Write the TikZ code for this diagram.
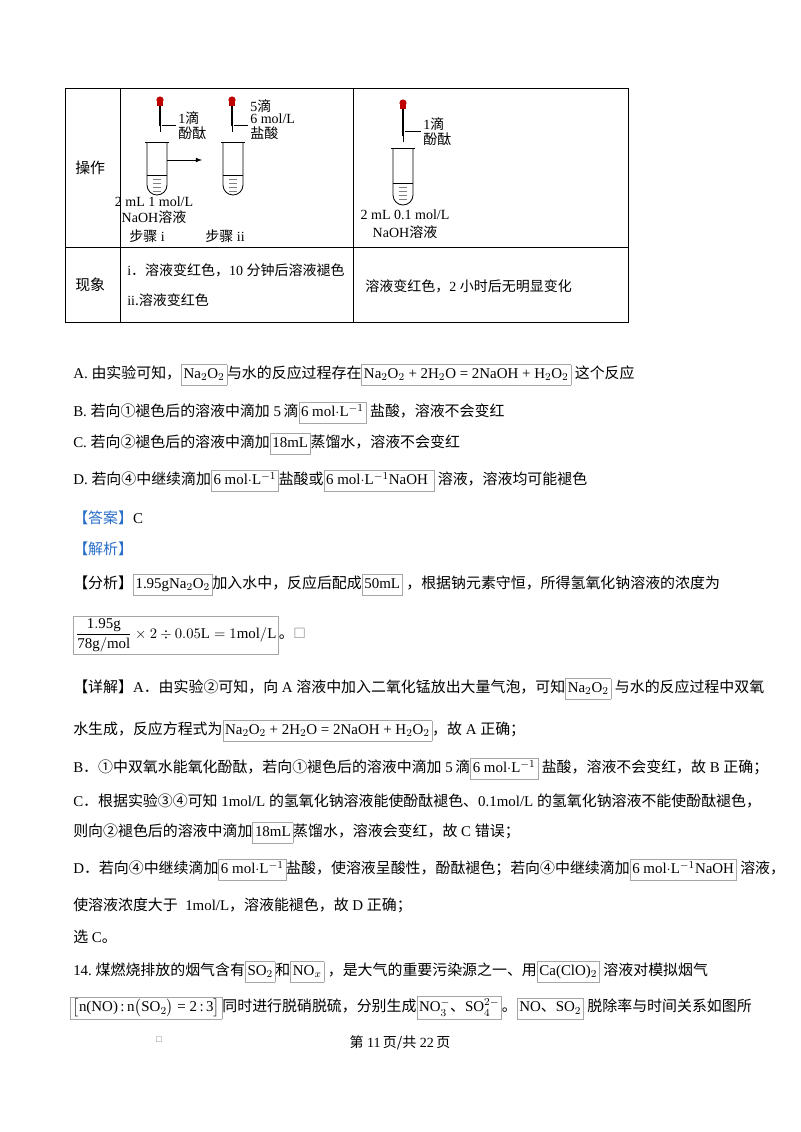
\documentclass[tikz,border=0pt]{standalone}
\usepackage{amsmath,amssymb}
\usepackage{fontspec}
\setmainfont{Liberation Serif}
\newfontfamily\cjk{Noto Sans CJK SC}
\newcommand{\zh}[1]{{\cjk #1}}
\newcommand{\bx}[1]{{\setlength{\fboxsep}{1.5pt}\fcolorbox{gray!70}{white}{\strut #1}}}
\definecolor{ansblue}{RGB}{40,110,200}
\begin{document}
\begin{tikzpicture}[x=0.75pt,y=-0.75pt,
  t/.style={anchor=west,inner sep=0pt,font=\fontsize{11.2}{12}\selectfont},
  tc/.style={inner sep=0pt,font=\fontsize{10.5}{11}\selectfont},
  tube/.style={draw=black,line width=0.6pt},
  grid/.style={draw=black,line width=0.7pt}]
\useasboundingbox (0,0) rectangle (800,1132);
% table
\draw[grid] (65,88) rectangle (628,322);
\draw[grid] (65,247) -- (628,247);
\draw[grid] (120,88) -- (120,322);
\draw[grid] (353,88) -- (353,322);
\node[t] (op) at (75,168) {\zh{操作}};
\node[t] (ph) at (75,285) {\zh{现象}};
% droppers and tubes
\foreach \x/\y/\tip in {160/100/132, 232/100/132, 403/103/142}{
  \fill[red!75!black] (\x,\y) circle (3.6);
  \fill[red!75!black] (\x-3,\y+2) rectangle (\x+3,\y+6);
  \draw[line width=1.2pt] (\x,\y+6) -- (\x,\tip-6);
  \draw[line width=0.6pt] (\x,\tip-6) -- (\x,\tip);
}
\foreach \x/\top/\bot/\liq in {157/142/195/175, 233/142/195/175, 403/148/205/183}{
  \draw[tube] (\x-10,\top) -- (\x-10,\bot-10) arc (180:0:10) -- (\x+10,\top);
  \draw[tube] (\x-12,\top) -- (\x+12,\top);
  \draw[line width=0.5pt] (\x-10,\liq) -- (\x+10,\liq);
  \foreach \k in {1,...,4}{\draw[gray,line width=0.4pt] (\x-4,\liq+\k*4) -- (\x+4,\liq+\k*4);}
}
\draw[line width=0.5pt] (162,125) -- (176,125);
\draw[line width=0.5pt] (234,125) -- (248,125);
\draw[line width=0.5pt] (405,131) -- (421,131);
\node[tc,anchor=west] (l1) at (178,118) {1\zh{滴}};
\node[tc,anchor=west] (l2) at (178,133) {\zh{酚酞}};
\node[tc,anchor=west] (l3) at (250,106) {5\zh{滴}};
\node[tc,anchor=west] (l4) at (250,119) {6 mol/L};
\node[tc,anchor=west] (l5) at (250,133) {\zh{盐酸}};
\node[tc,anchor=west] (l6) at (423,124) {1\zh{滴}};
\node[tc,anchor=west] (l7) at (423,139) {\zh{酚酞}};
\coordinate (a1) at (167,160); \coordinate (a2) at (202,160);
\draw[-latex,line width=0.6pt] (a1) -- (a2);
\node[tc] (c1) at (154,202) {2 mL 1 mol/L};
\node[tc] (c2) at (154,217) {NaOH\zh{溶液}};
\node[tc] (c3) at (147,236) {\zh{步骤} i};
\node[tc] (c4) at (225,236) {\zh{步骤} ii};
\node[tc] (c5) at (405,215) {2 mL 0.1 mol/L};
\node[tc] (c6) at (405,232) {NaOH\zh{溶液}};
\node[tc,anchor=west] (p1) at (127,270) {i\zh{．溶液变红色，}10 \zh{分钟后溶液褪色}};
\node[tc,anchor=west] (p2) at (127,300) {ii\zh{.溶液变红色}};
\node[tc,anchor=west] (p3) at (365,286) {\zh{溶液变红色，}2 \zh{小时后无明显变化}};
% options
\node[t] (A) at (73,375) {A.\ \zh{由实验可知，}\bx{Na$_2$O$_2$}\zh{与水的反应过程存在}\bx{Na$_2$O$_2$ + 2H$_2$O = 2NaOH + H$_2$O$_2$}\ \zh{这个反应}};
\node[t] (B) at (73,413) {B.\ \zh{若向①褪色后的溶液中滴加}\ 5\,\zh{滴}\bx{6 mol$\cdot$L$^{-1}$}\ \zh{盐酸，溶液不会变红}};
\node[t] (C) at (73,444) {C.\ \zh{若向②褪色后的溶液中滴加}\bx{18mL}\zh{蒸馏水，溶液不会变红}};
\node[t] (D) at (73,481) {D.\ \zh{若向④中继续滴加}\bx{6 mol$\cdot$L$^{-1}$}\zh{盐酸或}\bx{6 mol$\cdot$L$^{-1}$NaOH\ }\ \zh{溶液，溶液均可能褪色}};
\node[t] (ans) at (73,518) {\textcolor{ansblue}{\zh{【答案】}}C};
\node[t] (jx) at (73,549) {\textcolor{ansblue}{\zh{【解析】}}};
\node[t] (fx) at (73,585) {\zh{【分析】}\bx{1.95gNa$_2$O$_2$}\zh{加入水中，反应后配成}\bx{50mL}\ \zh{，根据钠元素守恒，所得氢氧化钠溶液的浓度为}};
\node[t] (fr) at (73,635) {\bx{$\dfrac{\mathrm{1.95g}}{\mathrm{78g/mol}}\times 2\div 0.05\mathrm{L}=1\mathrm{mol/L}$}\zh{。}\textcolor{gray}{$\square$}};
\node[t] (xj) at (73,689) {\zh{【详解】}A\zh{．由实验②可知，向}\ A\ \zh{溶液中加入二氧化锰放出大量气泡，可知}\bx{Na$_2$O$_2$}\ \zh{与水的反应过程中双氧}};
\node[t] (x2) at (73,731) {\zh{水生成，反应方程式为}\bx{Na$_2$O$_2$ + 2H$_2$O = 2NaOH + H$_2$O$_2$}\zh{，故}\ A\ \zh{正确；}};
\node[t] (x3) at (73,769) {B\zh{．①中双氧水能氧化酚酞，若向①褪色后的溶液中滴加}\ 5\,\zh{滴}\bx{6 mol$\cdot$L$^{-1}$}\ \zh{盐酸，溶液不会变红，故}\ B\ \zh{正确；}};
\node[t] (x4) at (73,801) {C\zh{．根据实验③④可知}\ 1mol/L\ \zh{的氢氧化钠溶液能使酚酞褪色、}0.1mol/L\ \zh{的氢氧化钠溶液不能使酚酞褪色，}};
\node[t] (x5) at (73,833) {\zh{则向②褪色后的溶液中滴加}\bx{18mL}\zh{蒸馏水，溶液会变红，故}\ C\ \zh{错误；}};
\node[t] (x6) at (73,870) {D\zh{．若向④中继续滴加}\bx{6 mol$\cdot$L$^{-1}$}\zh{盐酸，使溶液呈酸性，酚酞褪色；若向④中继续滴加}\bx{6 mol$\cdot$L$^{-1}$NaOH}\ \zh{溶液，}};
\node[t] (x7) at (73,905) {\zh{使溶液浓度大于}\ \ 1mol/L\zh{，溶液能褪色，故}\ D\ \zh{正确；}};
\node[t] (x8) at (73,937) {\zh{选}\ C\zh{。}};
\node[t] (q1) at (73,972) {14.\ \zh{煤燃烧排放的烟气含有}\bx{SO$_2$}\zh{和}\bx{NO$_x$}\ \zh{，是大气的重要污染源之一、用}\bx{Ca(ClO)$_2$}\ \zh{溶液对模拟烟气}};
\node[t] (q2) at (70,1008) {\bx{$\big[$n(NO)\,:\,n$\big($SO$_2\big)$ = 2\,:\,3$\big]$}\zh{同时进行脱硝脱硫，分别生成}\bx{NO$_3^-$\zh{、}SO$_4^{2-}$}\zh{。}\bx{NO\zh{、}SO$_2$}\ \zh{脱除率与时间关系如图所}};
\node[inner sep=0pt,font=\tiny,text=gray] (sq) at (159,1040) {$\square$};
\node[tc] (ft) at (400,1043) {\zh{第}\ 11\,\zh{页/共}\ 22\,\zh{页}};
\end{tikzpicture}
\end{document}
